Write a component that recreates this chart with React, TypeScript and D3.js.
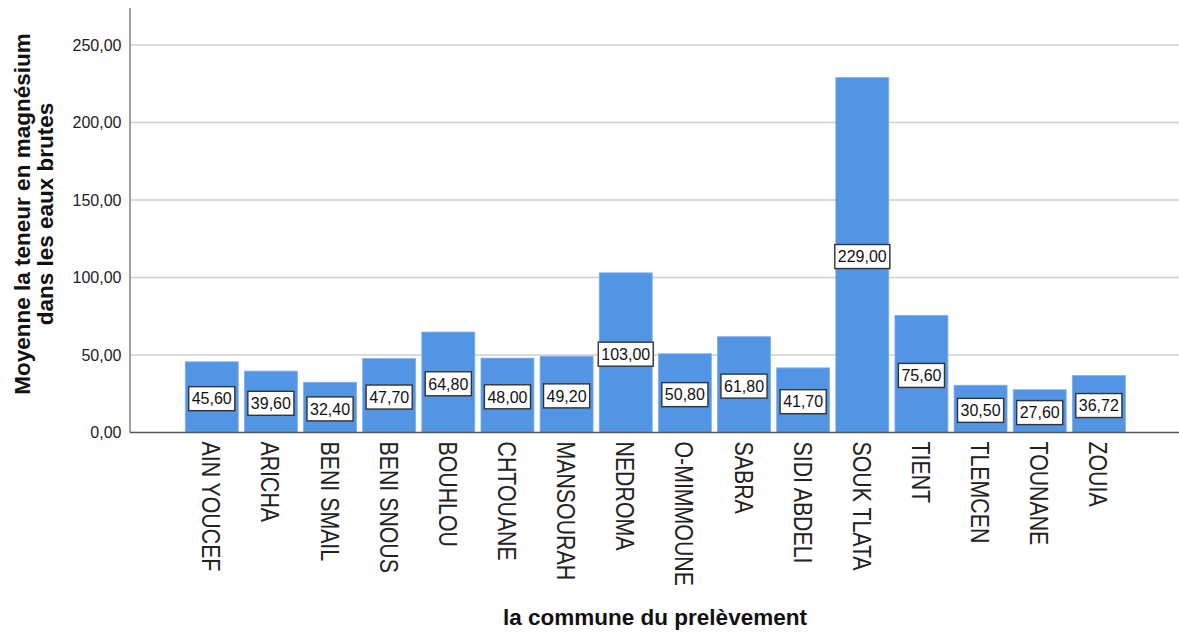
import React from "react";
import * as d3 from "d3";

const communes = [
  "AIN YOUCEF", "ARICHA", "BENI SMAIL", "BENI SNOUS", "BOUHLOU", "CHTOUANE",
  "MANSOURAH", "NEDROMA", "O-MIMMOUNE", "SABRA", "SIDI ABDELI", "SOUK TLATA",
  "TIENT", "TLEMCEN", "TOUNANE", "ZOUIA",
];
const moyennes = [45.6, 39.6, 32.4, 47.7, 64.8, 48.0, 49.2, 103.0, 50.8, 61.8, 41.7, 229.0, 75.6, 30.5, 27.6, 36.72];
const yTicks = [0, 50, 100, 150, 200, 250];

const W = 1179;
const H = 632;
const fmt = (v: number) => v.toFixed(2).replace(".", ",");

export default function App() {
  const x = d3.scaleBand<string>().domain(communes).range([182.3, 1128.3]).paddingInner(0.104).paddingOuter(0.05);
  const y = d3.scaleLinear().domain([0, 250]).range([432.5, 45]);
  const axisX = 130;
  const font = "Liberation Sans, Arial, sans-serif";
  return (
    <svg width={W} height={H} style={{ position: "absolute", left: 0, top: 0, background: "#fff" }} fontFamily={font}>
      <rect x={0} y={0} width={W} height={H} fill="#fff" />
      {yTicks.filter((t) => t > 0).map((t) => (
        <line key={t} x1={axisX} x2={W} y1={y(t)} y2={y(t)} stroke="#cfcfcf" strokeWidth={1.6} />
      ))}
      {communes.map((c, i) => (
        <rect key={c} x={x(c)!} y={y(moyennes[i])} width={x.bandwidth()} height={y(0) - y(moyennes[i])}
          fill="#5395e5" stroke="#7fb0ee" strokeWidth={0.8} />
      ))}
      <line x1={axisX} x2={axisX} y1={8} y2={y(0)} stroke="#8a8a8a" strokeWidth={1.6} />
      <line x1={axisX} x2={W} y1={y(0)} y2={y(0)} stroke="#555" strokeWidth={1.4} />
      {yTicks.map((t) => (
        <text key={t} x={121.5} y={y(t)} dy="0.35em" textAnchor="end" fontSize={16} fill="#222">{fmt(t)}</text>
      ))}
      {communes.map((c, i) => {
        const cx = x(c)! + x.bandwidth() / 2;
        const cy = (y(moyennes[i]) + y(0)) / 2 + 1.5;
        const label = fmt(moyennes[i]);
        const tw = label.length * 8.9 - 4.4;
        const bw = tw + 6;
        return (
          <g key={c}>
            <rect x={cx - bw / 2 + 1} y={cy - 12 + 1} width={bw} height={24} fill="#888" opacity={0.35} />
            <rect x={cx - bw / 2} y={cy - 12} width={bw} height={24} fill="#fff" stroke="#333" strokeWidth={1.4} />
            <text x={cx} y={cy} dy="0.36em" textAnchor="middle" fontSize={16} fill="#111">{label}</text>
          </g>
        );
      })}
      {communes.map((c) => {
        const cx = x(c)! + x.bandwidth() / 2;
        return (
          <text key={c} transform={`translate(${cx - 9.5},441.5) rotate(90) scale(0.82,1)`} fontSize={26} fill="#222">
            {c}
          </text>
        );
      })}
      <text transform="translate(30,214) rotate(-90)" textAnchor="middle" fontSize={22.5} fontWeight="bold" fill="#111">
        Moyenne la teneur en magnésium
      </text>
      <text transform="translate(53,214) rotate(-90)" textAnchor="middle" fontSize={22.5} fontWeight="bold" fill="#111">
        dans les eaux brutes
      </text>
      <text x={655} y={625} textAnchor="middle" fontSize={22.5} fontWeight="bold" fill="#111">la commune du prelèvement</text>
    </svg>
  );
}
